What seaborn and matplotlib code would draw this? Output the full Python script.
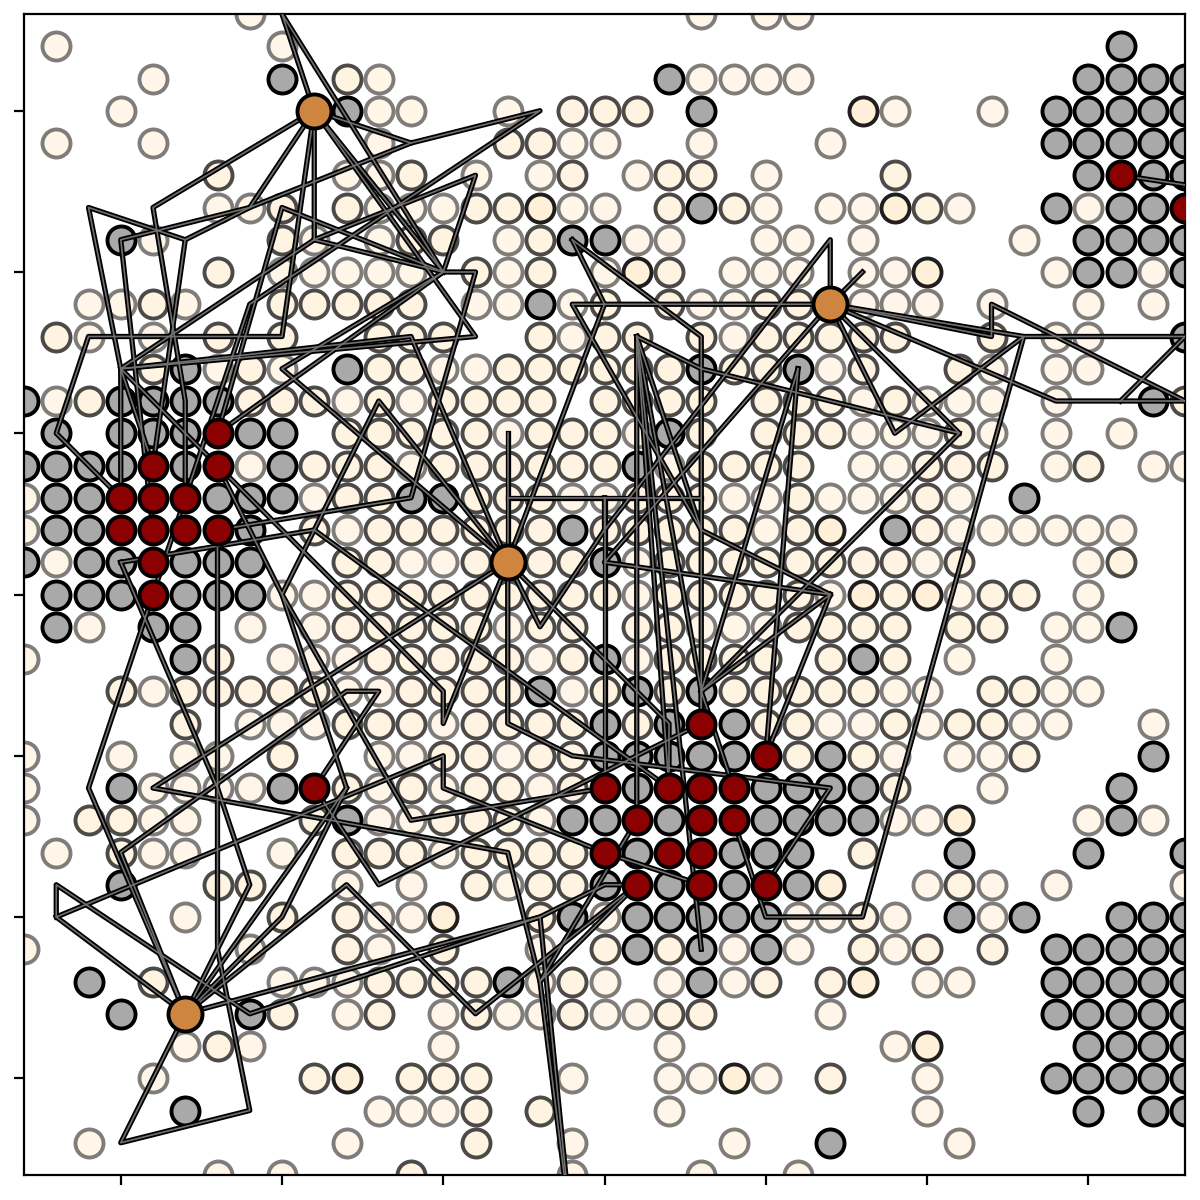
import matplotlib
matplotlib.use("Agg")
import matplotlib.pyplot as plt
import pandas as pd
import seaborn as sns

# one string per row of the grid, letter = kind of cell, number = column
# l / m / d = pale cells (more overlap = darker), g = grey, r = red, h = hub
grid_rows = [
    "l7 l21 l23 l24",
    "l1 l8 g34",
    "l4 g8 m10 l11 g20 l21 l22 l23 l24 g33 g34 g35 g36",
    "l3 h9 g10 l11 l12 l15 m17 m18 m19 g21 d26 l27 l30 g32 g33 g34 g35 g36",
    "l1 l4 l11 m15 m16 l17 l18 l21 l25 g32 g33 g34 g35 g36",
    "m6 l10 l11 m12 l14 l16 m17 l19 m20 m21 l23 m27 g33 r34 g35 g36",
    "l6 l7 m8 m10 l11 l12 l13 m14 m15 d16 l17 l18 m20 g21 m22 l23 l25 l26 d27 m28 l29 g32 l33 g34 g35 r36",
    "g3 l4 m8 l9 l11 m12 m13 l15 m16 g17 g18 l19 l20 l23 l24 l26 l31 g33 g34 g35 g36",
    "m6 l8 l9 l10 l11 l12 m14 l15 m16 l18 d19 m20 l22 l23 l24 l26 l27 d28 l32 g33 g34 l35 g36",
    "l2 l3 m4 l5 m8 m9 m10 m11 m12 l14 l15 g16 l17 m18 m20 l21 l22 m23 m24 h25 l26 l27 l28 l30 l33 l35",
    "m1 l2 l4 m6 m8 m11 m12 m13 m16 l17 m18 m19 m21 l22 m23 m24 m25 m26 m27 m30 l32 l33 g36",
    "m4 g5 l6 m7 l8 g10 m11 m12 l13 l14 m15 m16 m17 m18 m19 m20 g21 m22 m23 g24 l25 m26 m29 l30 l32 l33",
    "g0 l1 m2 g3 g4 g5 g6 m7 m8 m9 l10 m11 l12 m13 m14 m15 m16 m18 m19 m20 m21 m23 m24 m25 l26 m27 l28 l29 l30 l32 g35 m36",
    "g1 g3 g4 g5 r6 g7 g8 m10 m11 m12 m13 m14 l15 m16 m17 m18 l19 g20 m21 m23 m24 m25 l26 l27 l28 m29 l30 l32 l34",
    "g0 g1 g2 g3 r4 g5 r6 l7 g8 m9 m10 m11 l12 m13 m14 m15 m16 m17 m18 g19 l20 m21 m22 m23 m24 l26 l27 m28 m29 m30 l32 m33 l35 l36",
    "l0 g1 g2 r3 r4 r5 g6 g7 g8 l9 m10 m11 g12 g13 m14 m15 m16 l17 l18 m19 m20 m21 l22 l23 m24 l25 l26 l27 m28 l29 g31",
    "l0 g1 g2 r3 r4 r5 r6 g7 m9 l10 m11 m12 m13 m14 m15 m16 g17 m18 m19 m20 m21 m22 l23 m24 d25 g27 m28 l29 l30 l31 l32 l33 l34",
    "g0 l1 g2 g3 r4 g5 g6 g7 m10 m11 l12 l13 m14 h15 m16 m17 g18 l19 m20 m21 m22 m23 m24 m25 m26 m27 l28 m29 l33 m34",
    "g1 g2 g3 r4 g5 g6 g7 l8 l9 m10 m11 m12 m13 m14 m15 m16 m17 m18 l19 m20 m21 m22 m23 m24 l25 d26 m27 d28 l29 m30 m31 l33",
    "g1 l2 g4 g5 l7 l9 m10 m11 m12 m13 m14 l15 m16 m17 m19 m20 l21 l22 l23 m24 m25 m26 m27 m29 m30 l32 l33 g34",
    "l0 g5 m6 l8 l9 l10 m11 m12 m13 m14 m15 l16 m17 g18 l19 m20 m21 m22 m23 m25 g26 m27 l29 l32",
    "m3 l4 m5 m6 m7 m8 m9 l10 l11 m12 m13 m14 m15 g16 l17 m18 g19 m20 g21 m22 m23 m24 m25 m26 l27 l28 m30 m31 l32 l33",
    "m5 l7 l8 l9 m10 m11 m12 l13 m14 m15 m16 m17 g18 m19 g20 r21 g22 m23 m24 l25 l26 m27 l28 m29 m30 l31 l32 l35",
    "l0 l3 l5 l6 m8 l11 l12 m13 m14 l15 m16 m17 g18 g19 g20 g21 g22 r23 m24 g25 m26 l27 l29 l30 m31 g35",
    "l0 g3 l4 l5 l6 l7 g8 r9 m10 l11 m12 l13 m14 m15 l16 m17 r18 g19 r20 r21 r22 g23 g24 g25 g26 m27 l30 g34",
    "l0 m2 m3 l4 l5 m9 g10 l11 l12 m13 m14 m15 l16 g17 g18 r19 g20 r21 r22 g23 g24 g25 g26 l27 l28 d29 l33 g34 l35",
    "l1 m3 l4 l5 l8 m10 m11 m12 l13 m14 m15 m16 m17 r18 g19 r20 r21 g22 g23 g24 m26 g29 g33 g36",
    "g3 m6 m7 l10 l12 m14 l15 m16 m17 g18 r19 g20 r21 g22 r23 g24 d25 l28 m29 l30 l32 l36",
    "l5 m8 m10 l11 l12 d13 m16 g17 l18 g19 g20 g21 g22 g23 l24 l25 m26 l27 g29 l30 g31 g34 g35 g36",
    "l0 l7 m10 l11 m13 l16 m18 g19 m20 g21 l22 g23 l24 m26 l27 m28 m30 g32 g33 g34 g35 g36",
    "g2 m4 l8 l9 l10 m11 m12 m13 m14 g15 l16 m17 l18 l20 g21 l22 m23 m25 d26 l28 l29 g32 g33 g34 g35 g36",
    "g3 h5 g7 m8 l10 m11 l13 m14 l15 l16 m17 l18 l19 m20 m21 l25 g32 g33 g34 g35 g36",
    "l5 m6 l7 l13 l20 l27 d28 g33 g34 g35 g36",
    "l4 m9 d10 m12 m13 m14 l17 l20 l21 d22 l23 m25 l28 g32 g33 g34 g35 g36",
    "g5 l11 l12 l13 m14 m16 l20 l28 g33 g35 g36",
    "l2 l10 m14 l17 l22 g25 l29",
    "l6 l8 m12 l17 l21 l24",
]

# routes out of the first hub, (column, row) at every bend
routes_hub_a = [
    [(9, 3), (8, 0), (13, 8)],
    [(9, 3), (4, 6), (5, 12), (5, 15)],
    [(9, 3), (7, 6), (5, 7), (4, 14)],
    [(9, 3), (12, 4), (16, 3), (7, 9), (4, 18)],
    [(9, 3), (9, 7), (3, 11), (12, 10), (15, 17)],
    [(9, 7), (13, 8), (14, 8), (12, 15), (6, 16)],
    [(12, 4), (7, 6), (3, 7), (4, 16)],
    [(5, 7), (2, 6), (3, 11), (3, 15)],
    [(13, 8), (8, 6), (6, 13)],
    [(13, 8), (14, 5), (9, 7)],
    [(9, 3), (14, 10), (3, 11), (6, 14)],
    [(9, 3), (13, 8), (6, 13)],
    [(9, 3), (8, 10), (2, 10), (1, 13), (3, 15)],
    [(13, 8), (8, 11), (15, 17)],
    [(3, 11), (4, 14)],
]

# routes out of the middle hub
routes_hub_b = [
    [(15, 17), (11, 12), (8, 18), (10, 24), (8, 28), (5, 31)],
    [(15, 17), (13, 22), (13, 21), (6, 14)],
    [(3, 17), (9, 16), (20, 24)],
    [(15, 17), (4, 24), (15, 26), (16, 30), (17, 38)],
    [(6, 14), (8, 18), (12, 25), (18, 24)],
    [(15, 13), (15, 17)],
    [(15, 15), (21, 15)],
    [(18, 15), (18, 24)],
    [(15, 17), (16, 19), (18, 16), (18, 15)],
    [(17, 7), (18, 9), (15, 17)],
    [(15, 17), (20, 22), (20, 24)],
    [(15, 17), (15, 22), (17, 23), (25, 24), (23, 27)],
    [(17, 7), (21, 10), (21, 22)],
]

# routes out of the lower left hub
routes_hub_c = [
    [(5, 31), (3, 26), (10, 21), (11, 21), (9, 24)],
    [(5, 31), (2, 24), (4, 18)],
    [(3, 17), (6, 24), (7, 27), (5, 31)],
    [(5, 31), (3, 35), (7, 34), (6, 29), (6, 16)],
    [(5, 31), (10, 27), (14, 31), (19, 27)],
    [(5, 31), (10, 24)],
    [(5, 31), (1, 28), (1, 27), (7, 31), (16, 28), (18, 27), (19, 27)],
    [(1, 28), (13, 23), (13, 24), (18, 26), (21, 27)],
    [(5, 31), (16, 28), (17, 38)],
    [(19, 25), (16, 30), (19, 27)],
    [(9, 24), (11, 27), (21, 22)],
]

# routes out of the right hub
routes_hub_d = [
    [(25, 9), (17, 9), (21, 16), (25, 18), (23, 23)],
    [(25, 18), (18, 17), (25, 9)],
    [(25, 18), (21, 21), (21, 22)],
    [(21, 21), (29, 13), (25, 9)],
    [(29, 13), (21, 11), (19, 10), (19, 25)],
    [(19, 10), (20, 24)],
    [(19, 10), (21, 21), (22, 24)],
    [(19, 10), (21, 16)],
    [(19, 10), (21, 29)],
    [(25, 9), (25, 7), (18, 16)],
    [(25, 9), (26, 8)],
    [(25, 9), (30, 10), (30, 9), (36, 12)],
    [(25, 9), (31, 10), (37, 10)],
    [(25, 9), (27, 13), (31, 10), (26, 28), (23, 28), (22, 25)],
    [(25, 9), (32, 12), (37, 12)],
    [(34, 12), (37, 9)],
    [(24, 11), (21, 21)],
    [(24, 11), (23, 23)],
    [(34, 5), (38, 5.6)],
]

x_ticks = [3, 8, 13, 18, 23, 28, 33]
y_ticks = [3, 8, 13, 18, 23, 28, 33]

cells = []
for r, row in enumerate(grid_rows):
    for item in row.split():
        cells.append({"col": int(item[1:]), "row": r, "kind": item[0]})
cells = pd.DataFrame(cells)

lines = []
all_routes = routes_hub_a + routes_hub_b + routes_hub_c + routes_hub_d
for n, route in enumerate(all_routes):
    for i, (c, r) in enumerate(route):
        lines.append({"route": n, "step": i, "col": c, "row": r})
lines = pd.DataFrame(lines)

fig = plt.figure(figsize=(6, 6))
ax = fig.add_axes([24 / 1200, 1 - 1175 / 1200, 1161 / 1200, 1161 / 1200])


def dots(kind, color, alpha, size, z):
    sns.scatterplot(data=cells[cells["kind"] == kind], x="col", y="row", color=color,
                    edgecolor="black", linewidth=1.4, s=size, alpha=alpha,
                    legend=False, zorder=z, ax=ax)


# pale first, then grey, the routes go over those and under red
dots("l", "papayawhip", 0.5, 102, 2)
dots("m", "papayawhip", 0.7, 102, 2)
dots("d", "papayawhip", 0.88, 102, 2)
dots("g", "darkgray", 1, 102, 2.5)

sns.lineplot(data=lines, x="col", y="row", units="route", estimator=None, sort=False,
             color="black", linewidth=1.9, alpha=1, zorder=3, ax=ax)
sns.lineplot(data=lines, x="col", y="row", units="route", estimator=None, sort=False,
             color="#707070", linewidth=0.6, zorder=3.1, ax=ax)

dots("r", "darkred", 1, 102, 4)
dots("h", "peru", 1, 150, 5)

ax.set_xlim(0, 36)
ax.set_ylim(36, 0)
ax.set_xticks(x_ticks)
ax.set_yticks(y_ticks)
ax.set_xticklabels([])
ax.set_yticklabels([])
ax.set_xlabel("")
ax.set_ylabel("")

fig.savefig("out.png", dpi=200)
